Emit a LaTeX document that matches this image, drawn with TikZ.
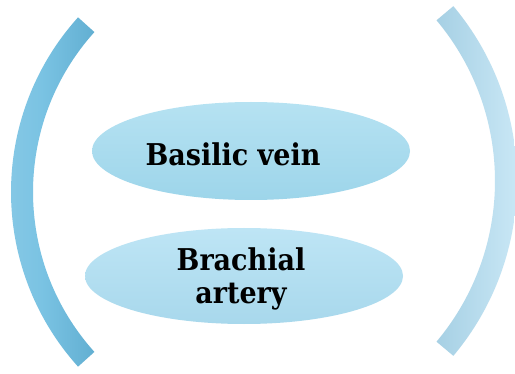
\documentclass[tikz,border=0pt]{standalone}
\usepackage{fontspec}
\usetikzlibrary{calc}
\setmainfont[FakeStretch=0.9]{DejaVu Serif}
\begin{document}
\begin{tikzpicture}[x=1pt,y=1pt,
  lbl/.style={font=\fontsize{30}{32.5}\selectfont\bfseries, text=black, inner sep=0pt, align=center}]
\definecolor{arcLa}{HTML}{8CCAE6}
\definecolor{arcLb}{HTML}{7AC3E3}
\definecolor{arcLc}{HTML}{62AFD2}
\definecolor{arcRa}{HTML}{A6D0E4}
\definecolor{arcRb}{HTML}{D2EDFA}
\definecolor{ellTa}{HTML}{B6E2F2}
\definecolor{ellTb}{HTML}{9DD5EA}
\definecolor{ellBa}{HTML}{BEE5F5}
\definecolor{ellBb}{HTML}{A8D8EC}
\useasboundingbox (0,0) rectangle (515,373);
\fill[white] (0,0) rectangle (515,373);
% left arc
\coordinate (cl) at (272,181);
\shade[left color=arcLa, right color=arcLc, middle color=arcLb]
  ($(cl)+(138:261)$) arc[start angle=138, end angle=222, radius=261]
  -- ($(cl)+(222:239)$) arc[start angle=222, end angle=138, radius=239] -- cycle;
% right arc
\coordinate (cr) at (245,192);
\shade[left color=arcRa, right color=arcRb]
  ($(cr)+(-40:272)$) arc[start angle=-40, end angle=40, radius=272]
  -- ($(cr)+(40:250)$) arc[start angle=40, end angle=-40, radius=250] -- cycle;
% ellipses
\shade[top color=ellTa, bottom color=ellTb] (251,222) ellipse[x radius=159, y radius=49];
\shade[top color=ellBa, bottom color=ellBb] (244,97) ellipse[x radius=159, y radius=48];
\node[lbl, anchor=base] (basilic) at (233,207) {Basilic vein};
\node[lbl, anchor=base] (brachial) at (241,70) {Brachial\\artery};
\end{tikzpicture}
\end{document}
